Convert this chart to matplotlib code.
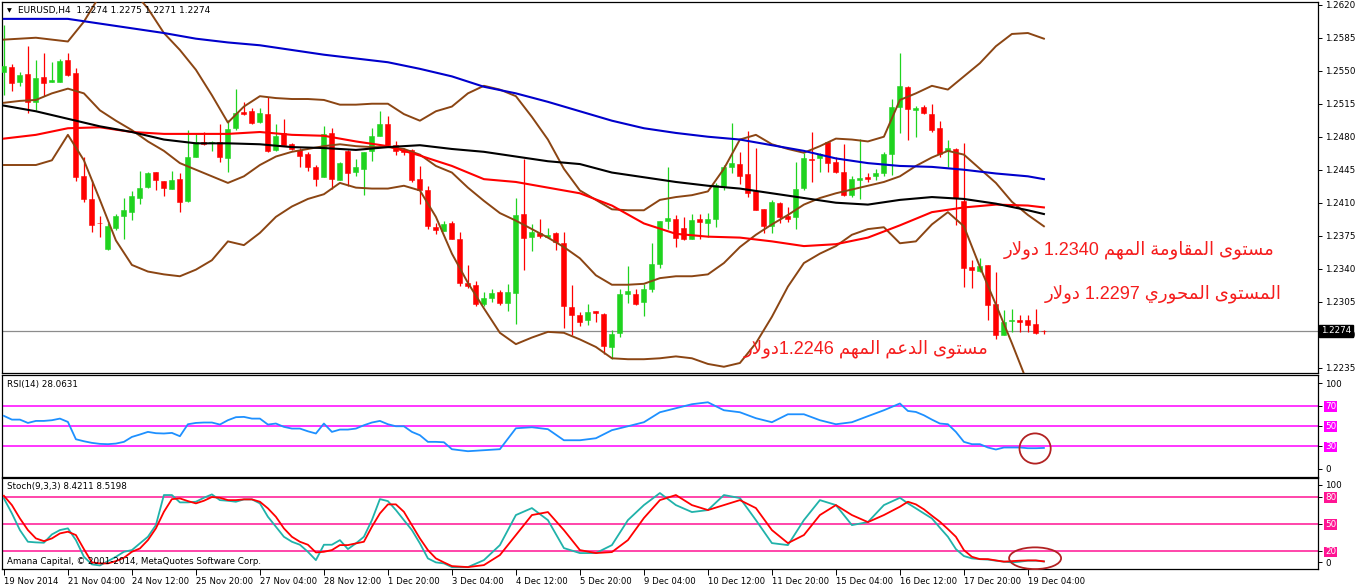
import re
import numpy as np
import matplotlib
matplotlib.use('Agg')
import matplotlib.pyplot as plt
from matplotlib.patches import Ellipse

# ---- price data (H4 candles, EURUSD) ----
opens = [1.2549, 1.2554, 1.2538, 1.2547, 1.2517, 1.2543, 1.2538, 1.2538, 1.2561, 1.2548,
         1.2438, 1.2414, 1.2389, 1.2361, 1.2383, 1.2396, 1.2400, 1.2415, 1.2427, 1.2443,
         1.2433, 1.2425, 1.2435, 1.2412, 1.2459, 1.2474, 1.2473, 1.2474, 1.2457, 1.2489,
         1.2506, 1.2507, 1.2496, 1.2504, 1.2466, 1.2484, 1.2472, 1.2466, 1.2462, 1.2448,
         1.2437, 1.2484, 1.2434, 1.2465, 1.2443, 1.2446, 1.2465, 1.2481, 1.2494, 1.2471,
         1.2466, 1.2466, 1.2435, 1.2424, 1.2384, 1.2380, 1.2388, 1.2372, 1.2325, 1.2323,
         1.2303, 1.2309, 1.2315, 1.2304, 1.2314, 1.2398, 1.2374, 1.2378, 1.2374, 1.2378,
         1.2367, 1.2299, 1.2291, 1.2286, 1.2295, 1.2292, 1.2257, 1.2272, 1.2313, 1.2313,
         1.2305, 1.2318, 1.2345, 1.2391, 1.2393, 1.2383, 1.2372, 1.2393, 1.2389, 1.2393,
         1.2428, 1.2448, 1.2451, 1.2440, 1.2422, 1.2403, 1.2385, 1.2410, 1.2396, 1.2395,
         1.2426, 1.2456, 1.2457, 1.2474, 1.2453, 1.2443, 1.2418, 1.2434, 1.2437, 1.2438,
         1.2442, 1.2462, 1.2511, 1.2533, 1.2508, 1.2511, 1.2504, 1.2489, 1.2465, 1.2467,
         1.2412, 1.2342, 1.2338, 1.2344, 1.2303, 1.2270, 1.2285, 1.2286, 1.2286, 1.2281,
         1.2274]
highs = [1.2599, 1.2557, 1.2549, 1.2576, 1.2561, 1.2569, 1.2559, 1.2562, 1.2569, 1.2553,
         1.2459, 1.2434, 1.2396, 1.2388, 1.2398, 1.2415, 1.2422, 1.2444, 1.2443, 1.2443,
         1.2433, 1.2444, 1.2441, 1.2487, 1.2484, 1.2485, 1.2475, 1.2494, 1.2498, 1.2531,
         1.2517, 1.2510, 1.2510, 1.2522, 1.2493, 1.2499, 1.2473, 1.2468, 1.2464, 1.2450,
         1.2491, 1.2489, 1.2453, 1.2466, 1.2456, 1.2464, 1.2489, 1.2507, 1.2502, 1.2475,
         1.2468, 1.2467, 1.2449, 1.2428, 1.2388, 1.2391, 1.2391, 1.2379, 1.2344, 1.2327,
         1.2315, 1.2319, 1.2317, 1.2324, 1.2415, 1.2456, 1.2387, 1.2393, 1.2383, 1.2379,
         1.2379, 1.2323, 1.2294, 1.2303, 1.2295, 1.2293, 1.2275, 1.2319, 1.2343, 1.2318,
         1.2324, 1.2367, 1.2391, 1.2448, 1.2397, 1.2395, 1.2398, 1.2398, 1.2399, 1.2431,
         1.2450, 1.2495, 1.2464, 1.2486, 1.2468, 1.2403, 1.2413, 1.2411, 1.2405, 1.2453,
         1.2463, 1.2485, 1.2463, 1.2474, 1.2459, 1.2472, 1.2438, 1.2478, 1.2441, 1.2446,
         1.2464, 1.2520, 1.2569, 1.2534, 1.2513, 1.2514, 1.2515, 1.2497, 1.2477, 1.2468,
         1.2473, 1.2349, 1.2351, 1.2344, 1.2337, 1.2296, 1.2297, 1.2291, 1.2291, 1.2297,
         1.2275]
lows = [1.2524, 1.2529, 1.2534, 1.2505, 1.2508, 1.2523, 1.2538, 1.2538, 1.2544, 1.2433,
        1.2411, 1.2379, 1.2374, 1.2360, 1.2381, 1.2372, 1.2392, 1.2409, 1.2426, 1.2424,
        1.2417, 1.2425, 1.2400, 1.2411, 1.2458, 1.2471, 1.2465, 1.2453, 1.2443, 1.2487,
        1.2503, 1.2494, 1.2495, 1.2464, 1.2465, 1.2471, 1.2466, 1.2448, 1.2444, 1.2428,
        1.2437, 1.2425, 1.2434, 1.2428, 1.2438, 1.2418, 1.2454, 1.2481, 1.2469, 1.2461,
        1.2461, 1.2432, 1.2409, 1.2382, 1.2377, 1.2380, 1.2371, 1.2322, 1.2320, 1.2300,
        1.2300, 1.2305, 1.2301, 1.2295, 1.2281, 1.2339, 1.2359, 1.2373, 1.2373, 1.2360,
        1.2277, 1.2270, 1.2279, 1.2280, 1.2283, 1.2250, 1.2244, 1.2268, 1.2304, 1.2301,
        1.2290, 1.2315, 1.2341, 1.2382, 1.2363, 1.2370, 1.2371, 1.2372, 1.2374, 1.2384,
        1.2424, 1.2442, 1.2430, 1.2416, 1.2402, 1.2378, 1.2378, 1.2389, 1.2390, 1.2382,
        1.2424, 1.2432, 1.2443, 1.2443, 1.2442, 1.2417, 1.2416, 1.2414, 1.2432, 1.2434,
        1.2438, 1.2439, 1.2484, 1.2477, 1.2480, 1.2504, 1.2485, 1.2458, 1.2448, 1.2386,
        1.2321, 1.2320, 1.2337, 1.2286, 1.2265, 1.2270, 1.2273, 1.2273, 1.2273, 1.2271,
        1.2271]
closes = [1.2555, 1.2537, 1.2545, 1.2517, 1.2542, 1.2537, 1.2540, 1.2560, 1.2545, 1.2437,
          1.2414, 1.2386, 1.2388, 1.2385, 1.2396, 1.2402, 1.2417, 1.2426, 1.2442, 1.2434,
          1.2426, 1.2434, 1.2411, 1.2459, 1.2474, 1.2472, 1.2474, 1.2458, 1.2488, 1.2505,
          1.2504, 1.2495, 1.2505, 1.2465, 1.2481, 1.2471, 1.2467, 1.2460, 1.2448, 1.2435,
          1.2483, 1.2435, 1.2452, 1.2442, 1.2448, 1.2464, 1.2481, 1.2493, 1.2471, 1.2465,
          1.2464, 1.2434, 1.2424, 1.2385, 1.2381, 1.2387, 1.2372, 1.2325, 1.2322, 1.2303,
          1.2309, 1.2314, 1.2304, 1.2315, 1.2397, 1.2373, 1.2379, 1.2375, 1.2376, 1.2368,
          1.2300, 1.2291, 1.2284, 1.2294, 1.2293, 1.2258, 1.2271, 1.2313, 1.2316, 1.2303,
          1.2319, 1.2345, 1.2391, 1.2394, 1.2373, 1.2372, 1.2392, 1.2390, 1.2393, 1.2429,
          1.2448, 1.2452, 1.2438, 1.2420, 1.2402, 1.2385, 1.2411, 1.2395, 1.2393, 1.2425,
          1.2457, 1.2455, 1.2462, 1.2452, 1.2443, 1.2418, 1.2435, 1.2436, 1.2435, 1.2442,
          1.2462, 1.2511, 1.2534, 1.2509, 1.2510, 1.2505, 1.2487, 1.2462, 1.2468, 1.2415,
          1.2341, 1.2339, 1.2343, 1.2302, 1.2270, 1.2283, 1.2286, 1.2284, 1.2280, 1.2272,
          1.2274]

# ---- moving averages, sampled every 4 bars ----
ma_idx = list(range(0, 129, 4)) + [130]
ma_blue = [1.2605, 1.2605, 1.2605, 1.2600, 1.2595, 1.2590, 1.2584, 1.2580, 1.2577, 1.2572,
           1.2567, 1.2563, 1.2559, 1.2552, 1.2544, 1.2533, 1.2526, 1.2517, 1.2507, 1.2497,
           1.2489, 1.2484, 1.2480, 1.2477, 1.2471, 1.2465, 1.2457, 1.2452, 1.2449, 1.2448,
           1.2445, 1.2441, 1.2438, 1.2435]
ma_black = [1.2513, 1.2507, 1.2499, 1.2491, 1.2485, 1.2477, 1.2473, 1.2473, 1.2472, 1.2469,
            1.2468, 1.2466, 1.2469, 1.2471, 1.2467, 1.2464, 1.2459, 1.2454, 1.2451, 1.2442,
            1.2437, 1.2432, 1.2428, 1.2425, 1.2420, 1.2415, 1.2410, 1.2408, 1.2413, 1.2416,
            1.2414, 1.2409, 1.2402, 1.2398]
ma_red = [1.2478, 1.2482, 1.2489, 1.2490, 1.2485, 1.2483, 1.2483, 1.2483, 1.2485, 1.2482,
          1.2481, 1.2475, 1.2470, 1.2460, 1.2449, 1.2435, 1.2432, 1.2426, 1.2420, 1.2407,
          1.2388, 1.2377, 1.2374, 1.2373, 1.2369, 1.2364, 1.2366, 1.2373, 1.2386, 1.2400,
          1.2405, 1.2408, 1.2407, 1.2405]

# ---- Bollinger bands, sampled every 2 bars ----
bb_idx = list(range(0, 131, 2))
bb_upper = [1.2583, 1.2584, 1.2585, 1.2583, 1.2581, 1.2602, 1.2630, 1.2639, 1.2636, 1.2616,
            1.2590, 1.2572, 1.2551, 1.2524, 1.2495, 1.2512, 1.2523, 1.2521, 1.2520, 1.2520,
            1.2519, 1.2514, 1.2514, 1.2515, 1.2515, 1.2504, 1.2497, 1.2507, 1.2512, 1.2526,
            1.2534, 1.2530, 1.2523, 1.2501, 1.2477, 1.2446, 1.2423, 1.2413, 1.2403, 1.2402,
            1.2402, 1.2413, 1.2416, 1.2418, 1.2422, 1.2446, 1.2477, 1.2482, 1.2472, 1.2467,
            1.2463, 1.2470, 1.2478, 1.2477, 1.2475, 1.2480, 1.2519, 1.2526, 1.2534, 1.2530,
            1.2544, 1.2558, 1.2576, 1.2589, 1.2590, 1.2584]
bb_middle = [1.2516, 1.2518, 1.2519, 1.2526, 1.2531, 1.2526, 1.2508, 1.2497, 1.2487, 1.2475,
             1.2465, 1.2452, 1.2445, 1.2438, 1.2431, 1.2438, 1.2450, 1.2459, 1.2464, 1.2467,
             1.2470, 1.2472, 1.2470, 1.2469, 1.2469, 1.2467, 1.2461, 1.2449, 1.2442, 1.2426,
             1.2412, 1.2399, 1.2391, 1.2382, 1.2373, 1.2363, 1.2351, 1.2333, 1.2323, 1.2323,
             1.2324, 1.2330, 1.2332, 1.2332, 1.2334, 1.2346, 1.2363, 1.2376, 1.2387, 1.2397,
             1.2408, 1.2415, 1.2420, 1.2424, 1.2428, 1.2432, 1.2438, 1.2449, 1.2458, 1.2465,
             1.2461, 1.2446, 1.2431, 1.2411, 1.2397, 1.2385]
bb_lower = [1.2450, 1.2450, 1.2450, 1.2455, 1.2482, 1.2455, 1.2413, 1.2370, 1.2344, 1.2337,
            1.2334, 1.2332, 1.2339, 1.2349, 1.2369, 1.2365, 1.2378, 1.2395, 1.2406, 1.2414,
            1.2419, 1.2431, 1.2426, 1.2425, 1.2425, 1.2428, 1.2423, 1.2395, 1.2356, 1.2325,
            1.2298, 1.2272, 1.2260, 1.2267, 1.2273, 1.2272, 1.2265, 1.2257, 1.2245, 1.2244,
            1.2244, 1.2245, 1.2247, 1.2245, 1.2239, 1.2236, 1.2240, 1.2261, 1.2289, 1.2321,
            1.2346, 1.2356, 1.2364, 1.2376, 1.2382, 1.2384, 1.2367, 1.2369, 1.2387, 1.2400,
            1.2385, 1.2342, 1.2302, 1.2261, 1.2218, 1.2183]

# ---- oscillators ----
osc_idx = list(range(0, 56)) + list(range(56, 112, 2)) + list(range(112, 131))
rsi = [59.9, 56.2, 56.2, 52.9, 54.9, 54.9, 55.6, 57.2, 53.9, 36.7,
       34.7, 33.1, 32.1, 31.8, 32.4, 34.1, 39.0, 41.4, 44.0, 42.7,
       42.4, 43.0, 39.7, 51.6, 52.9, 53.3, 53.3, 51.3, 55.6, 58.6,
       58.9, 57.2, 57.2, 51.3, 52.3, 49.0, 47.3, 47.3, 44.6, 42.4,
       52.3, 44.0, 46.3, 46.3, 47.3, 50.6, 53.3, 54.9, 51.6, 49.6,
       49.6, 44.0, 40.7, 34.1, 34.1, 33.7,
       26.8, 24.8, 25.8, 26.8, 47.6, 48.6, 46.7, 35.7, 35.7, 37.7,
       45.7, 49.6, 53.6, 63.5, 67.5, 71.5, 73.4, 65.5, 63.5, 57.6,
       53.6, 61.5, 61.5, 55.6, 51.6, 53.6, 59.6, 65.5,
       72.2, 64.8, 63.8, 60.5, 56.2, 52.3, 51.6, 44.0, 34.1, 31.8,
       31.8, 28.5, 26.5, 28.5, 28.5, 28.5, 27.8, 27.8, 28.06]
stoch_k = [78.1, 61.5, 43.1, 30.2, 29.5, 29.1, 38.3, 43.1, 45.0, 32.0,
           13.6, 5.2, 4.0, 8.8, 13.6, 19.1, 21.0, 28.4, 35.7, 48.6,
           81.8, 81.8, 73.7, 73.7, 74.4, 78.8, 82.5, 76.2, 75.5, 74.4,
           77.0, 77.0, 72.6, 57.8, 46.8, 35.7, 30.2, 26.9, 19.1, 9.9,
           26.9, 26.9, 32.0, 22.1, 28.4, 35.7, 54.1, 77.3, 75.1, 65.2,
           54.1, 43.1, 28.4, 11.8, 7.4, 6.3,
           2.2, 2.2, 9.9, 26.5, 59.7, 67.4, 54.1, 23.2, 17.7, 17.7,
           26.5, 54.1, 70.7, 84.0, 70.7, 63.0, 65.2, 81.8, 78.5, 54.1,
           28.7, 26.5, 54.1, 76.2, 70.7, 48.6, 51.9, 70.7,
           78.8, 72.6, 67.1, 61.5, 56.0, 45.7, 35.7, 22.1, 14.4, 11.8,
           11.0, 10.5, 9.3, 8.2, 7.4, 8.2, 9.3, 9.3, 8.42]
stoch_d = [81.0, 70.7, 56.0, 43.1, 33.9, 30.9, 33.9, 39.4, 41.3, 37.6,
           22.1, 7.4, 6.3, 6.3, 8.8, 12.5, 19.1, 22.8, 32.0, 45.0,
           63.3, 77.3, 78.1, 75.1, 72.6, 75.5, 79.6, 78.8, 76.2, 76.2,
           77.0, 77.0, 74.4, 67.1, 57.8, 45.0, 35.7, 30.2, 26.9, 18.4,
           19.1, 21.0, 26.5, 26.5, 28.4, 30.2, 46.8, 61.5, 71.5, 71.5,
           63.3, 48.6, 33.9, 21.0, 11.8, 7.4,
           3.3, 2.2, 4.4, 15.5, 37.6, 59.7, 63.0, 43.1, 21.0, 17.7,
           18.8, 32.0, 56.4, 76.2, 81.8, 70.7, 65.2, 70.7, 76.2, 67.4,
           43.1, 28.7, 37.6, 59.7, 70.7, 59.7, 51.9, 59.7,
           68.9, 74.4, 71.5, 66.0, 59.0, 52.3, 44.2, 35.7, 21.0, 13.6,
           11.0, 11.0, 9.6, 8.2, 8.8, 9.3, 9.6, 9.6, 8.52]

date_labels = ['19 Nov 2014', '21 Nov 04:00', '24 Nov 12:00', '25 Nov 20:00', '27 Nov 04:00',
               '28 Nov 12:00', '1 Dec 20:00', '3 Dec 04:00', '4 Dec 12:00', '5 Dec 20:00',
               '9 Dec 04:00', '10 Dec 12:00', '11 Dec 20:00', '15 Dec 04:00', '16 Dec 12:00',
               '17 Dec 20:00', '19 Dec 04:00']
price_ticks = [1.2620, 1.2585, 1.2550, 1.2515, 1.2480, 1.2445, 1.2410, 1.2375, 1.2340,
               1.2305, 1.2270, 1.2235]
last_price = 1.2274
levels_text = ['مستوى المقاومة المهم 1.2340 دولار',
               'المستوى المحوري 1.2297 دولار',
               'مستوى الدعم المهم 1.2246دولار']

# ---- minimal Arabic shaping (presentation forms) + visual ordering ----
AR_FORMS = {  # isolated, final, initial, medial
    'ا': ('\uFE8D', '\uFE8E', None, None),
    'ة': ('\uFE93', '\uFE94', None, None),
    'ت': ('\uFE95', '\uFE96', '\uFE97', '\uFE98'),
    'ح': ('\uFEA1', '\uFEA2', '\uFEA3', '\uFEA4'),
    'د': ('\uFEA9', '\uFEAA', None, None),
    'ر': ('\uFEAD', '\uFEAE', None, None),
    'س': ('\uFEB1', '\uFEB2', '\uFEB3', '\uFEB4'),
    'ع': ('\uFEC9', '\uFECA', '\uFECB', '\uFECC'),
    'ق': ('\uFED5', '\uFED6', '\uFED7', '\uFED8'),
    'ل': ('\uFEDD', '\uFEDE', '\uFEDF', '\uFEE0'),
    'م': ('\uFEE1', '\uFEE2', '\uFEE3', '\uFEE4'),
    'ه': ('\uFEE9', '\uFEEA', '\uFEEB', '\uFEEC'),
    'و': ('\uFEED', '\uFEEE', None, None),
    'ى': ('\uFEEF', '\uFEF0', None, None),
    'ي': ('\uFEF1', '\uFEF2', '\uFEF3', '\uFEF4'),
}


def shape_arabic(s):
    chars = []
    i = 0
    while i < len(s):
        if s[i] == 'ل' and i + 1 < len(s) and s[i + 1] == 'ا':
            chars.append('LA')
            i += 2
        else:
            chars.append(s[i])
            i += 1

    def joins_next(c):
        return c in AR_FORMS and AR_FORMS[c][2] is not None

    out = []
    for k, c in enumerate(chars):
        prev = chars[k - 1] if k > 0 else None
        nxt = chars[k + 1] if k + 1 < len(chars) else None
        pj = prev is not None and joins_next(prev)
        if c == 'LA':
            out.append('\uFEFC' if pj else '\uFEFB')
            continue
        if c not in AR_FORMS:
            out.append(c)
            continue
        f = AR_FORMS[c]
        nj = nxt is not None and (nxt == 'LA' or nxt in AR_FORMS) and f[2] is not None
        if pj and nj:
            out.append(f[3])
        elif pj:
            out.append(f[1])
        elif nj:
            out.append(f[2])
        else:
            out.append(f[0])
    vis = ''.join(out)[::-1]
    return re.sub(r'[0-9.]+', lambda m: m.group(0)[::-1], vis)


# ---- figure layout in pixels ----
W, H = 1358, 587
plt.rcParams['font.family'] = ['DejaVu Sans']
fig = plt.figure(figsize=(W / 100, H / 100), dpi=100)
fig.patch.set_facecolor('white')


def px_axes(x0, y0, x1, y1):
    return fig.add_axes([x0 / W, 1 - y1 / H, (x1 - x0) / W, (y1 - y0) / H])


def fx(x):
    return x / W


def fy(y):
    return 1 - y / H


ax = px_axes(2.3, 2.0, 1318.3, 372.7)
ax_rsi = px_axes(2.3, 375.0, 1318.3, 476.7)
ax_st = px_axes(2.3, 478.3, 1318.3, 569.0)

XMIN, XMAX = -0.2, 164.3
for a in (ax, ax_rsi, ax_st):
    a.set_xlim(XMIN, XMAX)
    for sp in a.spines.values():
        sp.set_color('black')
        sp.set_linewidth(0.9)
    a.yaxis.tick_right()
    a.tick_params(axis='y', direction='out', length=3, width=0.7, pad=2,
                  labelsize=6.3, colors='black')
    a.set_facecolor('white')

# ---- main chart ----
n = len(closes)
idx = np.arange(n)
o = np.array(opens)
c = np.array(closes)
up = c > o
col = np.where(up, '#1fd31f', '#ff0000')
ax.vlines(idx, lows, highs, colors=col, linewidth=0.9, zorder=2)
body_lo = np.minimum(o, c)
body_h = np.maximum(np.abs(c - o), 0.00004)
ax.bar(idx, body_h, bottom=body_lo, width=0.62, color=col, edgecolor=col,
       linewidth=0.4, zorder=3)

for band in (bb_upper, bb_middle, bb_lower):
    ax.plot(bb_idx, band, color='#8b4513', lw=1.4, zorder=4)
ax.plot(ma_idx, ma_red, color='#ff0000', lw=1.5, zorder=4)
ax.plot(ma_idx, ma_black, color='black', lw=1.5, zorder=4)
ax.plot(ma_idx, ma_blue, color='#0000cc', lw=1.5, zorder=4)
ax.axhline(last_price, color='#8c8c8c', lw=0.9, zorder=1)

ax.set_ylim(1.22297, 1.26229)
ax.set_yticks(price_ticks)
ax.set_yticklabels(['%.4f' % p for p in price_ticks])
ax.set_xticks([])
ax.annotate('%.4f' % last_price, xy=(1.0, last_price), xycoords=('axes fraction', 'data'),
            xytext=(2, 0), textcoords='offset points', ha='left', va='center',
            fontsize=6.3, color='white',
            bbox=dict(boxstyle='square,pad=0.2', facecolor='black', edgecolor='black'),
            annotation_clip=False, zorder=10)

fig.text(fx(9), fy(10.5), '▼', fontsize=4.5, ha='center', va='center', color='black')
fig.text(fx(18), fy(10.5), 'EURUSD,H4  1.2274 1.2275 1.2271 1.2274', fontsize=6.5,
         ha='left', va='center', color='black')

# Arabic level notes
ar_font = ['Liberation Sans', 'DejaVu Sans']
note_pos = [(1139, 250), (1163, 294), (866, 349)]
for txt, (px, py) in zip(levels_text, note_pos):
    fig.text(fx(px), fy(py), shape_arabic(txt), fontsize=13, color='#f51c1c',
             ha='center', va='center', family=ar_font)

# ---- RSI ----
ax_rsi.plot(osc_idx, rsi, color='#1e90ff', lw=1.3, zorder=3)
for lv in (70, 50, 30):
    ax_rsi.axhline(lv, color='#ff00ff', lw=1.1, zorder=2)
ax_rsi.set_ylim(-0.5, 100.5)
ax_rsi.set_yticks([92.5, 70, 50, 30, 7.2])
ax_rsi.set_yticklabels(['100', '70', '50', '30', '0'])
ax_rsi.set_xticks([])
for lbl in ax_rsi.get_yticklabels():
    if lbl.get_text() in ('70', '50', '30'):
        lbl.set_color('white')
        lbl.set_bbox(dict(boxstyle='square,pad=0.1', facecolor='#ff00ff', edgecolor='none'))
fig.text(fx(7), fy(384.5), 'RSI(14) 28.0631', fontsize=6.3, ha='left', va='center')
ax_rsi.add_patch(Ellipse((128.9, 27.5), 3.9, 30, fill=False, edgecolor='#b22222',
                         lw=1.3, zorder=5))

# ---- Stochastic ----
ax_st.plot(osc_idx, stoch_k, color='#20b2aa', lw=1.3, zorder=3)
ax_st.plot(osc_idx, stoch_d, color='#ff0000', lw=1.3, zorder=4)
for lv in (80, 50, 20):
    ax_st.axhline(lv, color='#ff1493', lw=1.1, zorder=2)
ax_st.set_ylim(0.1, 100.3)
ax_st.set_yticks([92.9, 80, 50, 20, 7.8])
ax_st.set_yticklabels(['100', '80', '50', '20', '0'])
for lbl in ax_st.get_yticklabels():
    if lbl.get_text() in ('80', '50', '20'):
        lbl.set_color('white')
        lbl.set_bbox(dict(boxstyle='square,pad=0.1', facecolor='#ff1493', edgecolor='none'))
ax_st.set_xticks(list(range(0, 129, 8)))
ax_st.set_xticklabels(date_labels)
ax_st.tick_params(axis='x', direction='out', length=4, width=0.7, pad=1.5, labelsize=6.1)
for lbl in ax_st.get_xticklabels():
    lbl.set_horizontalalignment('left')
fig.text(fx(7), fy(487), 'Stoch(9,3,3) 8.4211 8.5198', fontsize=6.3, ha='left', va='center')
fig.text(fx(7), fy(562), 'Amana Capital, © 2001-2014, MetaQuotes Software Corp.',
         fontsize=6.3, ha='left', va='center')
ax_st.add_patch(Ellipse((128.9, 12), 6.5, 24, fill=False, edgecolor='#b22222',
                        lw=1.3, zorder=5, clip_on=False))

fig.savefig('out.png', dpi=100)
